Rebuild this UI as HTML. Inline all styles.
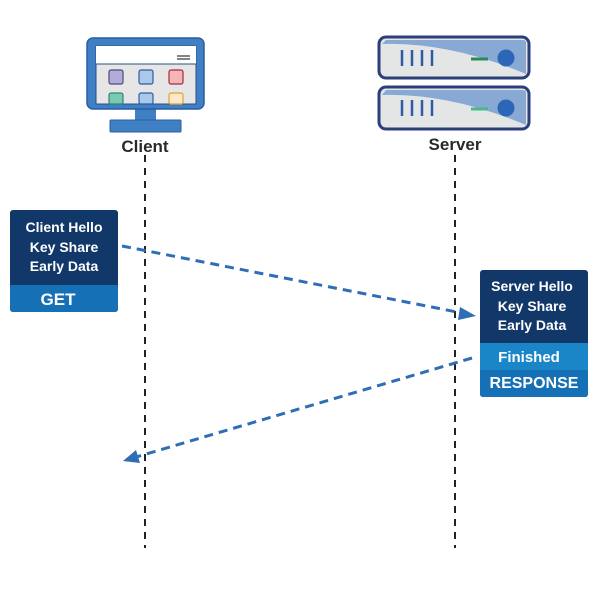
<!DOCTYPE html>
<html><head><style>
body{margin:0;background:#fff;width:600px;height:600px;overflow:hidden}
</style></head><body>
<svg width="600" height="600" viewBox="0 0 600 600" xmlns="http://www.w3.org/2000/svg" font-family="Liberation Sans, sans-serif" font-weight="bold">
<!-- lifelines -->
<line x1="145" y1="155" x2="145" y2="548" stroke="#222" stroke-width="2" stroke-dasharray="7,6"/>
<line x1="455" y1="155" x2="455" y2="548" stroke="#222" stroke-width="2" stroke-dasharray="7,6"/>
<!-- monitor -->
<rect x="135" y="108" width="21" height="14" fill="#3f7fc4"/>
<rect x="110" y="120" width="71" height="12" rx="1" fill="#3f7fc4" stroke="#2b5fa0" stroke-width="1"/>
<rect x="87" y="38" width="117" height="71" rx="6" fill="#3f7fc4" stroke="#2b5fa0" stroke-width="1.5"/>
<rect x="96" y="46" width="100" height="58" fill="#e6e6e6" stroke="#2b4f8a" stroke-width="1"/>
<rect x="96" y="46" width="100" height="18" fill="#fff"/>
<line x1="96" y1="64" x2="196" y2="64" stroke="#2b4f8a" stroke-width="1"/>
<line x1="177" y1="56" x2="190" y2="56" stroke="#333" stroke-width="1.2"/>
<line x1="177" y1="59" x2="190" y2="59" stroke="#333" stroke-width="1.2"/>
<rect x="109" y="70" width="14" height="14" rx="2" fill="#b3acd8" stroke="#4a4a80" stroke-width="1.2"/>
<rect x="139" y="70" width="14" height="14" rx="2" fill="#a9c8ea" stroke="#2e5d9e" stroke-width="1.2"/>
<rect x="169" y="70" width="14" height="14" rx="2" fill="#f3b5b8" stroke="#a03038" stroke-width="1.2"/>
<rect x="109" y="93" width="14" height="11" rx="2" fill="#7cc9b3" stroke="#2a8a6a" stroke-width="1.2"/>
<rect x="139" y="93" width="14" height="11" rx="2" fill="#a9c8ea" stroke="#2e5d9e" stroke-width="1.2"/>
<rect x="169" y="93" width="14" height="11" rx="2" fill="#fbe9c8" stroke="#e0a030" stroke-width="1.2"/>
<text x="145" y="152" font-size="17" text-anchor="middle" fill="#2a2a2a">Client</text>
<!-- server -->
<g>
<rect x="379" y="37" width="150" height="41" rx="7" fill="#e4e6e6" stroke="#2b3f7a" stroke-width="3"/>
<path d="M382 44 Q450 42 526 74 L526 42 Q526 40 522 40 L386 40 Z" fill="#87a9d4"/>
<g stroke="#2e5aa6" stroke-width="2.5"><line x1="402" y1="50" x2="402" y2="66"/><line x1="412" y1="50" x2="412" y2="66"/><line x1="422" y1="50" x2="422" y2="66"/><line x1="432" y1="50" x2="432" y2="66"/></g>
<line x1="471" y1="59" x2="488" y2="59" stroke="#2a8a5a" stroke-width="3"/>
<circle cx="506" cy="58" r="8.5" fill="#2d66b6"/>
</g>
<g>
<rect x="379" y="87" width="150" height="42" rx="7" fill="#e4e6e6" stroke="#2b3f7a" stroke-width="3"/>
<path d="M382 95 Q450 93 526 125 L526 92 Q526 90 522 90 L386 90 Z" fill="#87a9d4"/>
<g stroke="#2e5aa6" stroke-width="2.5"><line x1="402" y1="100" x2="402" y2="116"/><line x1="412" y1="100" x2="412" y2="116"/><line x1="422" y1="100" x2="422" y2="116"/><line x1="432" y1="100" x2="432" y2="116"/></g>
<line x1="471" y1="109" x2="488" y2="109" stroke="#4ab88a" stroke-width="3"/>
<circle cx="506" cy="108" r="8.5" fill="#2d66b6"/>
</g>
<text x="455" y="150" font-size="17" text-anchor="middle" fill="#2a2a2a">Server</text>
<!-- client box -->
<rect x="10" y="210" width="108" height="102" rx="3" fill="#12386a"/>
<rect x="10" y="285" width="108" height="27" rx="3" fill="#1670b5"/>
<rect x="10" y="285" width="108" height="4" fill="#1670b5"/>
<g fill="#fff" font-size="14" text-anchor="middle">
<text x="64" y="232">Client Hello</text>
<text x="64" y="252">Key Share</text>
<text x="64" y="271">Early Data</text>
<text x="58" y="305" font-size="17">GET</text>
</g>
<!-- server box -->
<rect x="480" y="270" width="108" height="127" rx="3" fill="#12386a"/>
<rect x="480" y="343" width="108" height="27" fill="#1a86c8"/>
<rect x="480" y="370" width="108" height="27" rx="3" fill="#1670b5"/>
<rect x="480" y="370" width="108" height="4" fill="#1670b5"/>
<g fill="#fff" font-size="14" text-anchor="middle">
<text x="532" y="291">Server Hello</text>
<text x="532" y="311">Key Share</text>
<text x="532" y="330">Early Data</text>
<text x="529" y="362" font-size="15">Finished</text>
<text x="534" y="388" font-size="16">RESPONSE</text>
</g>
<!-- arrows -->
<line x1="122" y1="246" x2="462" y2="313" stroke="#2f6db5" stroke-width="3" stroke-dasharray="9,6"/>
<polygon points="476,316 460,307 458,320" fill="#2f6db5"/>
<line x1="472" y1="358" x2="136" y2="457" stroke="#2f6db5" stroke-width="3" stroke-dasharray="9,6"/>
<polygon points="123,461 136,450 140,463" fill="#2f6db5"/>
</svg>
</body></html>
